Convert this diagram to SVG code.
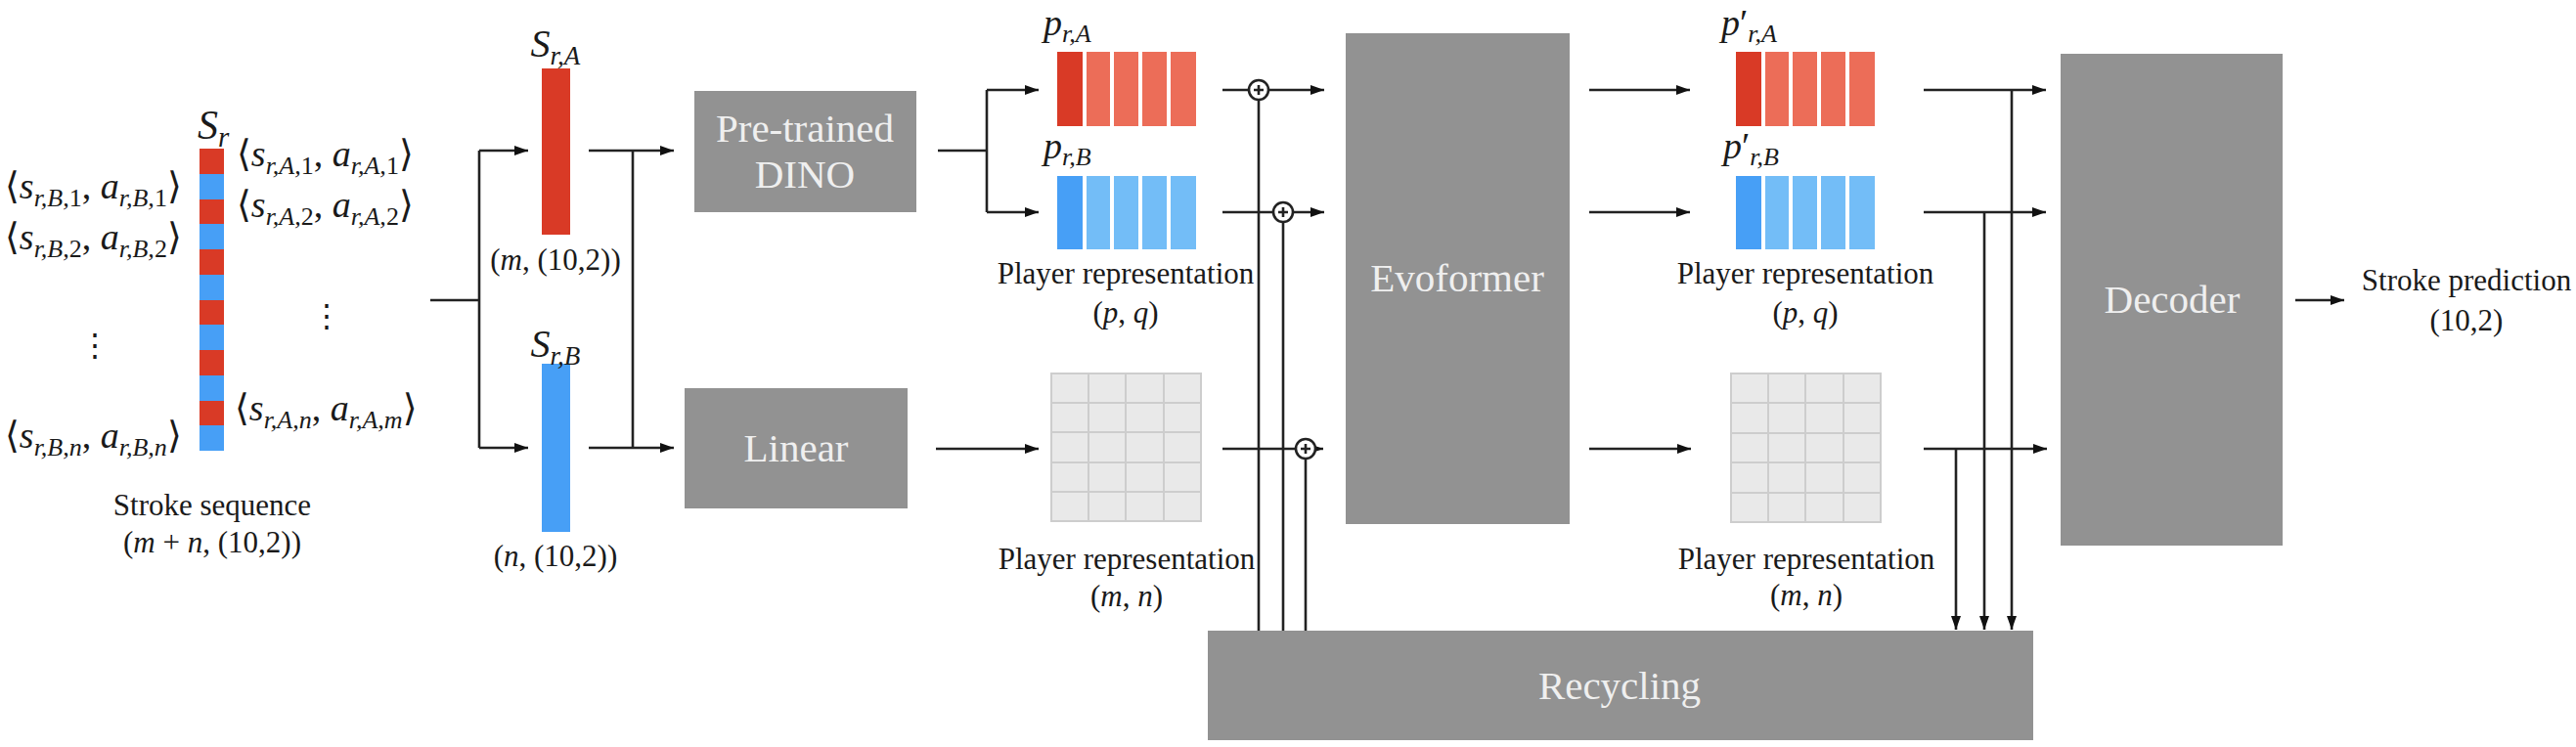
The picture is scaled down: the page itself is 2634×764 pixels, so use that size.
<svg xmlns="http://www.w3.org/2000/svg" width="2634" height="764" viewBox="0 0 2634 764" font-family="'Liberation Serif', 'Times New Roman', 'DejaVu Serif', serif">
<style>
text, tspan{font-family:'Liberation Serif','Times New Roman','DejaVu Serif',serif;fill:#1a1a1a}
.lab{font-size:31px;text-anchor:middle}
.m{font-size:38px;font-style:italic}
.sub{font-size:26px}
.up{font-style:normal}
.it{font-style:italic}
.box{fill:#929292}
text.bt{font-size:41px;fill:#efefef;text-anchor:middle}
.ln{stroke:#222;stroke-width:2.6;fill:none}
.ar{stroke:#222;stroke-width:2.6;fill:none;marker-end:url(#ah)}
.red{fill:#d93a26}
.redl{fill:#ec6d58}
.blue{fill:#479ff6}
.bluel{fill:#73bdf7}
.grid{fill:#e9e9e9;stroke:#cdcdcd;stroke-width:2}
.op{fill:#fff;stroke:#222;stroke-width:2.6}
</style>
<defs>
<marker id="ah" markerUnits="userSpaceOnUse" markerWidth="14" markerHeight="10" refX="14" refY="5" orient="auto">
<path d="M0,0 L14,5 L0,10 z" fill="#111"/>
</marker>
</defs>
<rect width="2634" height="764" fill="#fff"/>

<g id="stroke-sequence">
<rect class="red" x="204" y="152" width="25" height="26"/>
<rect class="blue" x="204" y="178" width="25" height="26"/>
<rect class="red" x="204" y="204" width="25" height="25"/>
<rect class="blue" x="204" y="229" width="25" height="26"/>
<rect class="red" x="204" y="255" width="25" height="26"/>
<rect class="blue" x="204" y="281" width="25" height="26"/>
<rect class="red" x="204" y="307" width="25" height="25"/>
<rect class="blue" x="204" y="332" width="25" height="26"/>
<rect class="red" x="204" y="358" width="25" height="26"/>
<rect class="blue" x="204" y="384" width="25" height="26"/>
<rect class="red" x="204" y="410" width="25" height="25"/>
<rect class="blue" x="204" y="435" width="25" height="26"/>
<text class="m" x="202" y="142" style="font-size:42px">S<tspan class="sub" dy="8" style="font-size:29px">r</tspan></text>
<text class="m" x="5" y="203"><tspan class="up">⟨</tspan>s<tspan class="sub" dy="8">r,B,</tspan><tspan class="sub up">1</tspan><tspan class="up" dy="-8">, </tspan>a<tspan class="sub" dy="8">r,B,</tspan><tspan class="sub up">1</tspan><tspan class="up" dy="-8">⟩</tspan></text>
<text class="m" x="5" y="255"><tspan class="up">⟨</tspan>s<tspan class="sub" dy="8">r,B,</tspan><tspan class="sub up">2</tspan><tspan class="up" dy="-8">, </tspan>a<tspan class="sub" dy="8">r,B,</tspan><tspan class="sub up">2</tspan><tspan class="up" dy="-8">⟩</tspan></text>
<text class="m" x="5" y="458"><tspan class="up">⟨</tspan>s<tspan class="sub" dy="8">r,B,n</tspan><tspan class="up" dy="-8">, </tspan>a<tspan class="sub" dy="8">r,B,n</tspan><tspan class="up" dy="-8">⟩</tspan></text>
<text class="m" x="242" y="170"><tspan class="up">⟨</tspan>s<tspan class="sub" dy="8">r,A,</tspan><tspan class="sub up">1</tspan><tspan class="up" dy="-8">, </tspan>a<tspan class="sub" dy="8">r,A,</tspan><tspan class="sub up">1</tspan><tspan class="up" dy="-8">⟩</tspan></text>
<text class="m" x="242" y="222"><tspan class="up">⟨</tspan>s<tspan class="sub" dy="8">r,A,</tspan><tspan class="sub up">2</tspan><tspan class="up" dy="-8">, </tspan>a<tspan class="sub" dy="8">r,A,</tspan><tspan class="sub up">2</tspan><tspan class="up" dy="-8">⟩</tspan></text>
<text class="m" x="240" y="430"><tspan class="up">⟨</tspan>s<tspan class="sub" dy="8">r,A,n</tspan><tspan class="up" dy="-8">, </tspan>a<tspan class="sub" dy="8">r,A,m</tspan><tspan class="up" dy="-8">⟩</tspan></text>
<text class="up" x="97" y="364" style="font-size:32px;text-anchor:middle">⋮</text>
<text class="up" x="334" y="334" style="font-size:32px;text-anchor:middle">⋮</text>
<text class="lab" x="217" y="527">Stroke sequence</text>
<text class="lab" x="217" y="565">(<tspan class="it">m</tspan> + <tspan class="it">n</tspan>, (10,2))</text>
</g>

<g id="s-r-a">
<rect class="red" x="554" y="70" width="29" height="170"/>
<text class="m" x="568" y="58" style="font-size:40px;text-anchor:middle">S<tspan class="sub" dy="8" style="font-size:27px">r,A</tspan></text>
<text class="lab" x="568" y="276">(<tspan class="it">m</tspan>, (10,2))</text>
</g>

<g id="s-r-b">
<rect class="blue" x="554" y="372" width="29" height="172"/>
<text class="m" x="568" y="365" style="font-size:40px;text-anchor:middle">S<tspan class="sub" dy="8" style="font-size:27px">r,B</tspan></text>
<text class="lab" x="568" y="579">(<tspan class="it">n</tspan>, (10,2))</text>
</g>

<g id="dino">
<rect class="box" x="710" y="93" width="227" height="124"/>
<text class="bt" x="823" y="145">Pre-trained</text>
<text class="bt" x="823" y="192">DINO</text>
</g>

<g id="linear">
<rect class="box" x="700" y="397" width="228" height="123"/>
<text class="bt" x="814" y="472">Linear</text>
</g>

<g id="p-r-a">
<rect class="red" x="1081" y="53" width="26" height="76"/>
<rect class="redl" x="1111" y="53" width="24" height="76"/>
<rect class="redl" x="1139" y="53" width="25" height="76"/>
<rect class="redl" x="1168" y="53" width="25" height="76"/>
<rect class="redl" x="1197" y="53" width="26" height="76"/>
<text class="m" x="1067" y="36">p<tspan class="sub" dy="7">r,A</tspan></text>
</g>

<g id="p-r-b">
<rect class="blue" x="1081" y="180" width="26" height="75"/>
<rect class="bluel" x="1111" y="180" width="24" height="75"/>
<rect class="bluel" x="1139" y="180" width="25" height="75"/>
<rect class="bluel" x="1168" y="180" width="25" height="75"/>
<rect class="bluel" x="1197" y="180" width="26" height="75"/>
<text class="m" x="1067" y="162">p<tspan class="sub" dy="7">r,B</tspan></text>
<text class="lab" x="1151" y="290">Player representation</text>
<text class="lab" x="1151" y="330">(<tspan class="it">p</tspan>, <tspan class="it">q</tspan>)</text>
</g>

<g id="pair-rep">
<rect class="grid" x="1075" y="382" width="153" height="151"/>
<path class="grid" d="M1113,382 V533 M1151,382 V533 M1190,382 V533 M1075,412 H1228 M1075,442 H1228 M1075,473 H1228 M1075,503 H1228"/>
<text class="lab" x="1152" y="582">Player representation</text>
<text class="lab" x="1152" y="620">(<tspan class="it">m</tspan>, <tspan class="it">n</tspan>)</text>
</g>

<g id="evoformer">
<rect class="box" x="1376" y="34" width="229" height="502"/>
<text class="bt" x="1490" y="298">Evoformer</text>
</g>

<g id="p-prime-r-a">
<rect class="red" x="1775" y="53" width="26" height="76"/>
<rect class="redl" x="1805" y="53" width="24" height="76"/>
<rect class="redl" x="1833" y="53" width="25" height="76"/>
<rect class="redl" x="1862" y="53" width="25" height="76"/>
<rect class="redl" x="1891" y="53" width="26" height="76"/>
<text class="m" x="1760" y="36">p<tspan class="up">′</tspan><tspan class="sub" dy="7">r,A</tspan></text>
</g>

<g id="p-prime-r-b">
<rect class="blue" x="1775" y="180" width="26" height="75"/>
<rect class="bluel" x="1805" y="180" width="24" height="75"/>
<rect class="bluel" x="1833" y="180" width="25" height="75"/>
<rect class="bluel" x="1862" y="180" width="25" height="75"/>
<rect class="bluel" x="1891" y="180" width="26" height="75"/>
<text class="m" x="1762" y="162">p<tspan class="up">′</tspan><tspan class="sub" dy="7">r,B</tspan></text>
<text class="lab" x="1846" y="290">Player representation</text>
<text class="lab" x="1846" y="330">(<tspan class="it">p</tspan>, <tspan class="it">q</tspan>)</text>
</g>

<g id="pair-rep-out">
<rect class="grid" x="1770" y="382" width="153" height="152"/>
<path class="grid" d="M1808,382 V534 M1846,382 V534 M1885,382 V534 M1770,412 H1923 M1770,443 H1923 M1770,473 H1923 M1770,504 H1923"/>
<text class="lab" x="1847" y="582">Player representation</text>
<text class="lab" x="1847" y="619">(<tspan class="it">m</tspan>, <tspan class="it">n</tspan>)</text>
</g>

<g id="decoder">
<rect class="box" x="2107" y="55" width="227" height="503"/>
<text class="bt" x="2221" y="320">Decoder</text>
</g>

<g id="recycling">
<rect class="box" x="1235" y="645" width="844" height="112"/>
<text class="bt" x="1656" y="715">Recycling</text>
</g>

<g id="output">
<text class="lab" x="2522" y="297">Stroke prediction</text>
<text class="lab" x="2522" y="338">(10,2)</text>
</g>

<g id="connectors">
<path class="ln" d="M440,307 H490 M490,154 V458 M647,154 V458 M959,154 H1009 M1009,92 V217"/>
<path class="ar" d="M490,154 H540"/>
<path class="ar" d="M490,458 H540"/>
<path class="ar" d="M602,154 H689"/>
<path class="ar" d="M602,458 H689"/>
<path class="ar" d="M1009,92 H1062"/>
<path class="ar" d="M1009,217 H1062"/>
<path class="ar" d="M957,459 H1062"/>
<path class="ln" d="M1287,92 V645 M1312,217 V645 M1335,459 V645"/>
<path class="ar" d="M1250,92 H1354"/>
<path class="ar" d="M1250,217 H1354"/>
<path class="ar" d="M1250,459 H1353"/>
<circle class="op" cx="1287" cy="92" r="10"/>
<circle class="op" cx="1312" cy="217" r="10"/>
<circle class="op" cx="1335" cy="459" r="10"/>
<path class="ln" stroke-width="2" d="M1282,92 H1292 M1287,87 V97 M1307,217 H1317 M1312,212 V222 M1330,459 H1340 M1335,454 V464"/>
<path class="ar" d="M1625,92 H1728"/>
<path class="ar" d="M1625,217 H1728"/>
<path class="ar" d="M1625,459 H1729"/>
<path class="ar" d="M1967,92 H2092"/>
<path class="ar" d="M1967,217 H2092"/>
<path class="ar" d="M1967,459 H2093"/>
<path class="ar" d="M2057,92 V644"/>
<path class="ar" d="M2029,217 V644"/>
<path class="ar" d="M2000,459 V644"/>
<path class="ar" d="M2347,307 H2397"/>
</g>
</svg>
